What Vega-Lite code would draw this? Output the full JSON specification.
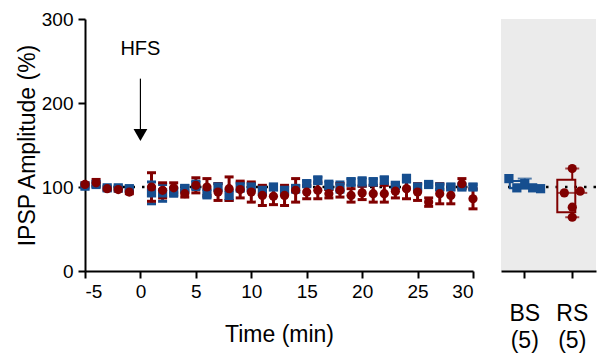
{
  "$schema": "https://vega.github.io/schema/vega-lite/v6.json",
  "padding": {"left": 16, "top": 10, "right": 5, "bottom": 5},
  "background": "white",
  "config": {
    "view": {"stroke": null},
    "font": "Liberation Sans",
    "axis": {
      "grid": false,
      "domainColor": "black",
      "domainWidth": 2,
      "tickColor": "black",
      "tickWidth": 2,
      "tickSize": 7,
      "labelColor": "black",
      "labelFontSize": 19,
      "labelFont": "Liberation Sans",
      "titleColor": "black",
      "titleFontSize": 23,
      "titleFontWeight": "normal",
      "titleFont": "Liberation Sans",
      "labelPadding": 4
    }
  },
  "datasets": {
    "ts": [
      {"t": -5, "group": "BS", "mean": 101, "lo": 99, "hi": 103},
      {"t": -4, "group": "BS", "mean": 103, "lo": 101, "hi": 105},
      {"t": -3, "group": "BS", "mean": 99, "lo": 97, "hi": 101},
      {"t": -2, "group": "BS", "mean": 99, "lo": 97, "hi": 101},
      {"t": -1, "group": "BS", "mean": 98, "lo": 96, "hi": 100},
      {"t": 1, "group": "BS", "mean": 93, "lo": 80, "hi": 106},
      {"t": 2, "group": "BS", "mean": 93, "lo": 83, "hi": 103},
      {"t": 3, "group": "BS", "mean": 94, "lo": 89, "hi": 99},
      {"t": 4, "group": "BS", "mean": 98, "lo": 94, "hi": 102},
      {"t": 5, "group": "BS", "mean": 102, "lo": 97, "hi": 107},
      {"t": 6, "group": "BS", "mean": 92, "lo": 87, "hi": 97},
      {"t": 7, "group": "BS", "mean": 100, "lo": 96, "hi": 104},
      {"t": 8, "group": "BS", "mean": 90, "lo": 84, "hi": 96},
      {"t": 9, "group": "BS", "mean": 100, "lo": 95, "hi": 105},
      {"t": 10, "group": "BS", "mean": 100, "lo": 96, "hi": 104},
      {"t": 11, "group": "BS", "mean": 96, "lo": 91, "hi": 101},
      {"t": 12, "group": "BS", "mean": 100, "lo": 97, "hi": 103},
      {"t": 13, "group": "BS", "mean": 96, "lo": 92, "hi": 100},
      {"t": 14, "group": "BS", "mean": 98, "lo": 94, "hi": 102},
      {"t": 15, "group": "BS", "mean": 104, "lo": 101, "hi": 107},
      {"t": 16, "group": "BS", "mean": 108, "lo": 104, "hi": 112},
      {"t": 17, "group": "BS", "mean": 102, "lo": 97, "hi": 107},
      {"t": 18, "group": "BS", "mean": 100, "lo": 94, "hi": 106},
      {"t": 19, "group": "BS", "mean": 106, "lo": 102, "hi": 110},
      {"t": 20, "group": "BS", "mean": 106, "lo": 101, "hi": 111},
      {"t": 21, "group": "BS", "mean": 106, "lo": 102, "hi": 110},
      {"t": 22, "group": "BS", "mean": 108, "lo": 104, "hi": 112},
      {"t": 23, "group": "BS", "mean": 102, "lo": 99, "hi": 105},
      {"t": 24, "group": "BS", "mean": 110, "lo": 106, "hi": 114},
      {"t": 25, "group": "BS", "mean": 100, "lo": 97, "hi": 103},
      {"t": 26, "group": "BS", "mean": 103, "lo": 101, "hi": 105},
      {"t": 27, "group": "BS", "mean": 100, "lo": 97, "hi": 103},
      {"t": 28, "group": "BS", "mean": 100, "lo": 97, "hi": 103},
      {"t": 29, "group": "BS", "mean": 100, "lo": 98, "hi": 102},
      {"t": 30, "group": "BS", "mean": 100, "lo": 97, "hi": 103},
      {"t": -5, "group": "RS", "mean": 103, "lo": 101, "hi": 105},
      {"t": -4, "group": "RS", "mean": 105, "lo": 101, "hi": 109},
      {"t": -3, "group": "RS", "mean": 98, "lo": 96, "hi": 100},
      {"t": -2, "group": "RS", "mean": 97, "lo": 95, "hi": 99},
      {"t": -1, "group": "RS", "mean": 94, "lo": 92, "hi": 96},
      {"t": 1, "group": "RS", "mean": 100, "lo": 83, "hi": 117},
      {"t": 2, "group": "RS", "mean": 96, "lo": 87, "hi": 105},
      {"t": 3, "group": "RS", "mean": 99, "lo": 93, "hi": 105},
      {"t": 4, "group": "RS", "mean": 92, "lo": 88, "hi": 96},
      {"t": 5, "group": "RS", "mean": 102, "lo": 93, "hi": 111},
      {"t": 6, "group": "RS", "mean": 100, "lo": 90, "hi": 110},
      {"t": 7, "group": "RS", "mean": 94, "lo": 84, "hi": 104},
      {"t": 8, "group": "RS", "mean": 98, "lo": 84, "hi": 112},
      {"t": 9, "group": "RS", "mean": 97, "lo": 87, "hi": 107},
      {"t": 10, "group": "RS", "mean": 94, "lo": 82, "hi": 106},
      {"t": 11, "group": "RS", "mean": 90, "lo": 78, "hi": 102},
      {"t": 12, "group": "RS", "mean": 89, "lo": 79, "hi": 99},
      {"t": 13, "group": "RS", "mean": 90, "lo": 78, "hi": 102},
      {"t": 14, "group": "RS", "mean": 96, "lo": 82, "hi": 110},
      {"t": 15, "group": "RS", "mean": 94, "lo": 86, "hi": 102},
      {"t": 16, "group": "RS", "mean": 96, "lo": 86, "hi": 106},
      {"t": 17, "group": "RS", "mean": 92, "lo": 87, "hi": 97},
      {"t": 18, "group": "RS", "mean": 96, "lo": 88, "hi": 104},
      {"t": 19, "group": "RS", "mean": 90, "lo": 82, "hi": 98},
      {"t": 20, "group": "RS", "mean": 93, "lo": 85, "hi": 101},
      {"t": 21, "group": "RS", "mean": 92, "lo": 82, "hi": 102},
      {"t": 22, "group": "RS", "mean": 92, "lo": 82, "hi": 102},
      {"t": 23, "group": "RS", "mean": 95, "lo": 87, "hi": 103},
      {"t": 24, "group": "RS", "mean": 98, "lo": 86, "hi": 110},
      {"t": 25, "group": "RS", "mean": 94, "lo": 84, "hi": 104},
      {"t": 26, "group": "RS", "mean": 82, "lo": 77, "hi": 87},
      {"t": 27, "group": "RS", "mean": 92, "lo": 80, "hi": 104},
      {"t": 28, "group": "RS", "mean": 90, "lo": 80, "hi": 100},
      {"t": 29, "group": "RS", "mean": 104, "lo": 98, "hi": 110},
      {"t": 30, "group": "RS", "mean": 86, "lo": 74, "hi": 98}
    ],
    "box": [
      {"group": "BS", "lo": 98, "q1": 98.5, "med": 99, "q3": 107, "hi": 110},
      {"group": "RS", "lo": 64, "q1": 70, "med": 93, "q3": 108.5, "hi": 122}
    ],
    "cells": [
      {"group": "BS", "col": "a", "value": 110},
      {"group": "BS", "col": "b", "value": 99},
      {"group": "BS", "col": "c", "value": 104},
      {"group": "BS", "col": "d", "value": 99},
      {"group": "BS", "col": "e", "value": 98},
      {"group": "RS", "col": "c", "value": 122},
      {"group": "RS", "col": "b", "value": 93},
      {"group": "RS", "col": "d", "value": 95},
      {"group": "RS", "col": "c", "value": 76},
      {"group": "RS", "col": "c", "value": 64}
    ]
  },
  "hconcat": [
    {
      "width": 388,
      "height": 252,
      "layer": [
        {
          "data": {"values": [{}]},
          "mark": {"type": "rule", "strokeDash": [2.5, 7], "strokeWidth": 2.5, "color": "black"},
          "encoding": {
            "y": {"datum": 100, "type": "quantitative"},
            "x": {"datum": -5, "type": "quantitative"},
            "x2": {"datum": 30}
          }
        },
        {
          "data": {"name": "ts"},
          "mark": {"type": "rule", "strokeWidth": 3},
          "encoding": {
            "x": {"field": "t", "type": "quantitative"},
            "y": {"field": "lo", "type": "quantitative"},
            "y2": {"field": "hi"},
            "color": {"field": "group", "type": "nominal", "scale": {"domain": ["BS", "RS"], "range": ["#164e8f", "#800000"]}, "legend": null}
          }
        },
        {
          "data": {"name": "ts"},
          "mark": {"type": "tick", "orient": "horizontal", "thickness": 3, "size": 9, "opacity": 1},
          "encoding": {
            "x": {"field": "t", "type": "quantitative"},
            "y": {"field": "lo", "type": "quantitative"},
            "color": {"field": "group", "type": "nominal", "legend": null}
          }
        },
        {
          "data": {"name": "ts"},
          "mark": {"type": "tick", "orient": "horizontal", "thickness": 3, "size": 9, "opacity": 1},
          "encoding": {
            "x": {"field": "t", "type": "quantitative"},
            "y": {"field": "hi", "type": "quantitative"},
            "color": {"field": "group", "type": "nominal", "legend": null}
          }
        },
        {
          "data": {"name": "ts"},
          "mark": {"type": "point", "filled": true, "opacity": 1, "size": 85},
          "encoding": {
            "x": {"field": "t", "type": "quantitative"},
            "y": {"field": "mean", "type": "quantitative"},
            "color": {"field": "group", "type": "nominal", "legend": null},
            "shape": {"field": "group", "type": "nominal", "scale": {"domain": ["BS", "RS"], "range": ["square", "circle"]}, "legend": null}
          }
        },
        {
          "data": {"values": [{}]},
          "mark": {"type": "rule", "color": "black", "strokeWidth": 1.2},
          "encoding": {
            "x": {"datum": 0, "type": "quantitative"},
            "y": {"datum": 229, "type": "quantitative"},
            "y2": {"datum": 166}
          }
        },
        {
          "data": {"values": [{}]},
          "mark": {"type": "point", "shape": "triangle-down", "filled": true, "color": "black", "opacity": 1, "size": 190},
          "encoding": {
            "x": {"datum": 0, "type": "quantitative"},
            "y": {"datum": 162, "type": "quantitative"}
          }
        },
        {
          "data": {"values": [{}]},
          "mark": {"type": "text", "fontSize": 20, "color": "black", "font": "Liberation Sans"},
          "encoding": {
            "x": {"datum": 0, "type": "quantitative"},
            "y": {"datum": 264, "type": "quantitative"},
            "text": {"value": "HFS"}
          }
        }
      ],
      "encoding": {
        "x": {
          "type": "quantitative",
          "scale": {"domain": [-5, 30], "nice": false, "zero": false},
          "axis": {"title": "Time (min)", "values": [-5, 0, 5, 10, 15, 20, 25, 30], "labelExpr": "datum.value < 0 ? '-' + abs(datum.value) : '' + datum.value", "titlePadding": 22}
        },
        "y": {
          "type": "quantitative",
          "scale": {"domain": [0, 300], "nice": false},
          "axis": {"title": "IPSP Amplitude (%)", "values": [0, 100, 200, 300], "titlePadding": 2, "labelPadding": 5}
        }
      }
    },
    {
      "width": 95,
      "height": 252,
      "view": {"fill": "#ebebeb", "stroke": null},
      "layer": [
        {
          "data": {"values": [{}]},
          "mark": {"type": "rule", "strokeDash": [2.5, 7], "strokeWidth": 2.5, "color": "black"},
          "encoding": {
            "y": {"datum": 100, "type": "quantitative"}
          }
        },
        {
          "data": {"name": "box"},
          "mark": {"type": "bar", "fillOpacity": 0, "strokeWidth": 2, "width": {"band": 0.63}},
          "encoding": {
            "x": {"field": "group", "type": "nominal"},
            "y": {"field": "q1", "type": "quantitative"},
            "y2": {"field": "q3"},
            "stroke": {"field": "group", "type": "nominal", "scale": {"domain": ["BS", "RS"], "range": ["#164e8f", "#800000"]}, "legend": null}
          }
        },
        {
          "data": {"name": "box"},
          "mark": {"type": "tick", "thickness": 2, "size": 30},
          "encoding": {
            "x": {"field": "group", "type": "nominal"},
            "y": {"field": "med", "type": "quantitative"},
            "color": {"field": "group", "type": "nominal", "scale": {"domain": ["BS", "RS"], "range": ["#164e8f", "#800000"]}, "legend": null}
          }
        },
        {
          "data": {"name": "box"},
          "mark": {"type": "rule", "strokeWidth": 2},
          "encoding": {
            "x": {"field": "group", "type": "nominal"},
            "y": {"field": "lo", "type": "quantitative"},
            "y2": {"field": "q1"},
            "color": {"field": "group", "type": "nominal", "legend": null}
          }
        },
        {
          "data": {"name": "box"},
          "mark": {"type": "rule", "strokeWidth": 2},
          "encoding": {
            "x": {"field": "group", "type": "nominal"},
            "y": {"field": "q3", "type": "quantitative"},
            "y2": {"field": "hi"},
            "color": {"field": "group", "type": "nominal", "legend": null}
          }
        },
        {
          "data": {"name": "box"},
          "mark": {"type": "tick", "thickness": 2, "size": 14},
          "encoding": {
            "x": {"field": "group", "type": "nominal"},
            "y": {"field": "lo", "type": "quantitative"},
            "color": {"field": "group", "type": "nominal", "legend": null}
          }
        },
        {
          "data": {"name": "box"},
          "mark": {"type": "tick", "thickness": 2, "size": 14},
          "encoding": {
            "x": {"field": "group", "type": "nominal"},
            "y": {"field": "hi", "type": "quantitative"},
            "color": {"field": "group", "type": "nominal", "legend": null}
          }
        },
        {
          "data": {"name": "cells"},
          "mark": {"type": "point", "filled": true, "opacity": 1, "size": 85},
          "encoding": {
            "x": {"field": "group", "type": "nominal"},
            "xOffset": {"field": "col", "type": "nominal", "scale": {"domain": ["a", "b", "c", "d", "e"], "paddingOuter": 1.5, "paddingInner": 0}},
            "y": {"field": "value", "type": "quantitative"},
            "color": {"field": "group", "type": "nominal", "legend": null},
            "shape": {"field": "group", "type": "nominal", "scale": {"domain": ["BS", "RS"], "range": ["square", "circle"]}, "legend": null}
          }
        }
      ],
      "encoding": {
        "x": {
          "type": "nominal",
          "scale": {"domain": ["BS", "RS"], "paddingInner": 0, "paddingOuter": 0},
          "axis": {"title": null, "labelAngle": 0, "labelExpr": "[datum.label, '(5)']", "labelFontSize": 23, "labelFont": "Liberation Sans", "labelLineHeight": 27, "labelPadding": 24}
        },
        "y": {"type": "quantitative", "scale": {"domain": [0, 300], "nice": false}, "axis": null}
      }
    }
  ],
  "spacing": 21
}
